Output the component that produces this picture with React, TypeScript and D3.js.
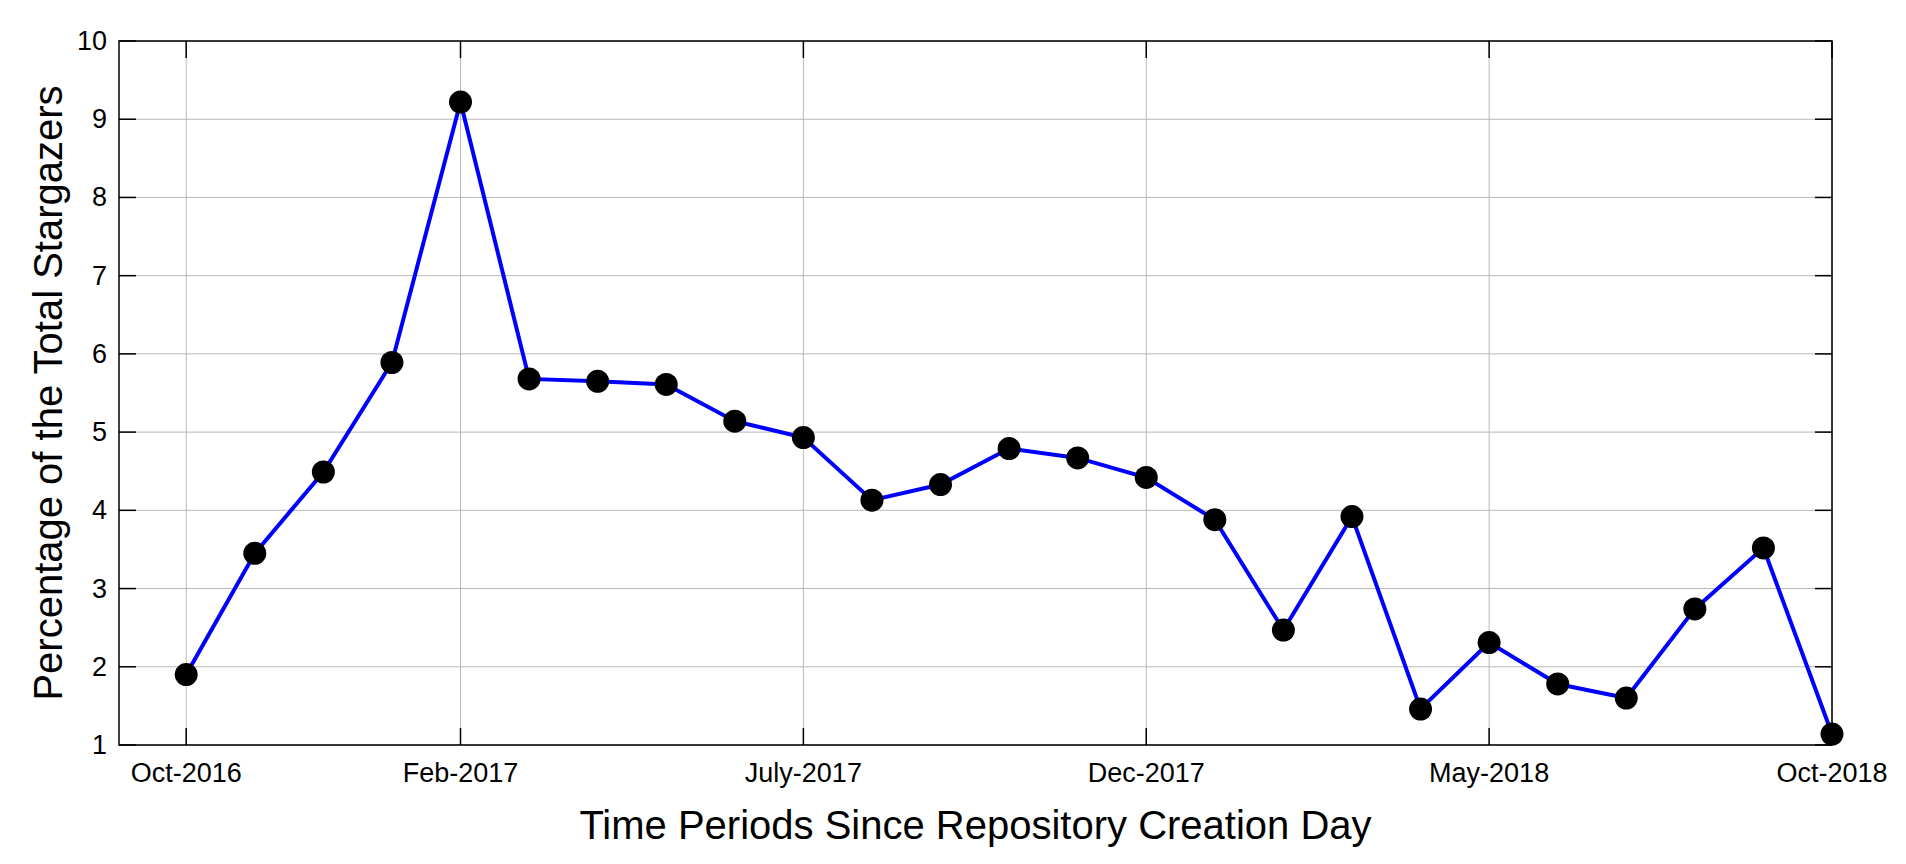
import React, { useEffect, useRef } from 'react';
import * as d3 from 'd3';

// month index since Oct-2016 (0..24)
const monthIndex = [
  0, 1, 2, 3, 4, 5, 6, 7, 8, 9, 10, 11, 12, 13, 14, 15, 16, 17, 18, 19, 20, 21,
  22, 23, 24,
];
const stargazerPct = [
  1.9, 3.45, 4.49, 5.89, 9.22, 5.68, 5.65, 5.61, 5.14, 4.93, 4.13, 4.33, 4.79,
  4.67, 4.42, 3.88, 2.47, 3.92, 1.46, 2.31, 1.78, 1.6, 2.74, 3.52, 1.14,
];
const xTickIndex = [0, 4, 9, 14, 19, 24];
const xTickLabels = [
  'Oct-2016',
  'Feb-2017',
  'July-2017',
  'Dec-2017',
  'May-2018',
  'Oct-2018',
];
const yTicks = [1, 2, 3, 4, 5, 6, 7, 8, 9, 10];

const App: React.FC = () => {
  const svgRef = useRef<SVGSVGElement>(null);

  useEffect(() => {
    if (!svgRef.current) return;
    const svg = d3.select(svgRef.current);
    svg.selectAll('*').remove();

    const left = 119;
    const right = 1832;
    const top = 41;
    const bottom = 745;
    const tickLen = 17;
    const font = 'Helvetica, Arial, "Liberation Sans", sans-serif';

    const x = d3.scaleLinear().domain([-0.98, 24]).range([left, right]);
    const y = d3.scaleLinear().domain([1, 10]).range([bottom, top]);

    // grid
    yTicks.forEach(t => {
      svg
        .append('line')
        .attr('x1', left)
        .attr('x2', right)
        .attr('y1', y(t))
        .attr('y2', y(t))
        .attr('stroke', '#b8b8b8')
        .attr('stroke-width', 1);
    });
    xTickIndex.forEach(t => {
      svg
        .append('line')
        .attr('x1', x(t))
        .attr('x2', x(t))
        .attr('y1', top)
        .attr('y2', bottom)
        .attr('stroke', '#b8b8b8')
        .attr('stroke-width', 1);
    });

    // ticks on all sides, pointing inward
    yTicks.forEach(t => {
      svg
        .append('line')
        .attr('x1', left)
        .attr('x2', left + tickLen)
        .attr('y1', y(t))
        .attr('y2', y(t))
        .attr('stroke', '#000')
        .attr('stroke-width', 1.5);
      svg
        .append('line')
        .attr('x1', right - tickLen)
        .attr('x2', right)
        .attr('y1', y(t))
        .attr('y2', y(t))
        .attr('stroke', '#000')
        .attr('stroke-width', 1.5);
      svg
        .append('text')
        .attr('x', left - 12)
        .attr('y', y(t))
        .attr('text-anchor', 'end')
        .attr('dominant-baseline', 'central')
        .attr('font-family', font)
        .attr('font-size', '27px')
        .attr('fill', '#000')
        .text(t);
    });
    xTickIndex.forEach((t, i) => {
      svg
        .append('line')
        .attr('x1', x(t))
        .attr('x2', x(t))
        .attr('y1', bottom - tickLen)
        .attr('y2', bottom)
        .attr('stroke', '#000')
        .attr('stroke-width', 1.5);
      svg
        .append('line')
        .attr('x1', x(t))
        .attr('x2', x(t))
        .attr('y1', top)
        .attr('y2', top + tickLen)
        .attr('stroke', '#000')
        .attr('stroke-width', 1.5);
      svg
        .append('text')
        .attr('x', x(t))
        .attr('y', 782)
        .attr('text-anchor', 'middle')
        .attr('font-family', font)
        .attr('font-size', '27px')
        .attr('fill', '#000')
        .text(xTickLabels[i]);
    });

    // box
    svg
      .append('rect')
      .attr('x', left)
      .attr('y', top)
      .attr('width', right - left)
      .attr('height', bottom - top)
      .attr('fill', 'none')
      .attr('stroke', '#000')
      .attr('stroke-width', 1.5);

    // series
    const line = d3
      .line<number>()
      .x((_d, i) => x(monthIndex[i]))
      .y(d => y(d));

    svg
      .append('path')
      .datum(stargazerPct)
      .attr('d', line)
      .attr('fill', 'none')
      .attr('stroke', '#0000ff')
      .attr('stroke-width', 4);

    stargazerPct.forEach((v, i) => {
      svg
        .append('circle')
        .attr('cx', x(monthIndex[i]))
        .attr('cy', y(v))
        .attr('r', 11.5)
        .attr('fill', '#000');
    });

    // axis titles
    svg
      .append('text')
      .attr('x', (left + right) / 2)
      .attr('y', 839)
      .attr('text-anchor', 'middle')
      .attr('font-family', font)
      .attr('font-size', '40px')
      .attr('fill', '#000')
      .text('Time Periods Since Repository Creation Day');

    svg
      .append('text')
      .attr('transform', `translate(62, ${(top + bottom) / 2}) rotate(-90)`)
      .attr('text-anchor', 'middle')
      .attr('font-family', font)
      .attr('font-size', '40px')
      .attr('fill', '#000')
      .text('Percentage of the Total Stargazers');
  }, []);

  return (
    <svg
      ref={svgRef}
      width={1906}
      height={864}
      style={{ position: 'absolute', left: 0, top: 0, background: '#fff' }}
    />
  );
};

export default App;
